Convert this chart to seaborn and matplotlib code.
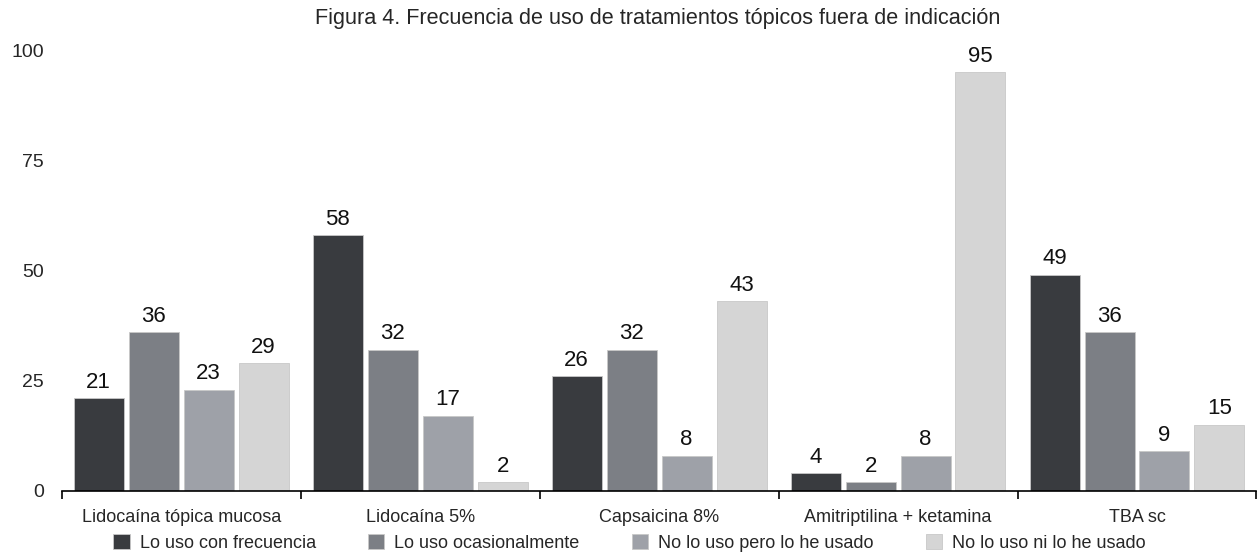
import matplotlib
matplotlib.use('Agg')
import matplotlib.pyplot as plt
import seaborn as sns
import pandas as pd
import numpy as np

# datos
categorias = ['Lidocaína tópica mucosa', 'Lidocaína 5%', 'Capsaicina 8%',
              'Amitriptilina + ketamina', 'TBA sc']
respuestas = ['Lo uso con frecuencia', 'Lo uso ocasionalmente',
              'No lo uso pero lo he usado', 'No lo uso ni lo he usado']
con_frecuencia = [21, 58, 26, 4, 49]
ocasionalmente = [36, 32, 32, 2, 36]
pero_lo_he_usado = [23, 17, 8, 8, 9]
ni_lo_he_usado = [29, 2, 43, 95, 15]
colores = ['#383b40', '#7a7f87', '#9ca0aa', '#d5d5d5']

series = [con_frecuencia, ocasionalmente, pero_lo_he_usado, ni_lo_he_usado]
df = pd.DataFrame({
    'categoria': np.repeat([categorias], 4, axis=0).ravel(),
    'respuesta': np.repeat(respuestas, len(categorias)),
    'valor': np.concatenate(series),
})

sns.set_style('white')
plt.rcParams['font.family'] = ['Liberation Sans', 'DejaVu Sans']

fig = plt.figure(figsize=(12.59, 5.57), dpi=100)
ax = fig.add_axes([0.049, 0.1185, 0.949, 0.7915])

sns.barplot(data=df, x='categoria', y='valor', hue='respuesta',
            order=categorias, hue_order=respuestas, palette=colores,
            width=0.92, gap=0.09, edgecolor='#c8c8c8', linewidth=0.6,
            ax=ax, legend=True)

for cont in ax.containers:
    ax.bar_label(cont, padding=4, fontsize=16, color='#111111')

ax.set_ylim(0, 100)
ax.set_xlim(-0.5, len(categorias) - 0.5)
ax.set_yticks([0, 25, 50, 75, 100])
ax.tick_params(axis='y', length=0, pad=13, labelsize=14)
ax.tick_params(axis='x', which='major', length=0, pad=13, labelsize=13)
ax.set_xticks(np.arange(-0.5, len(categorias)), minor=True)
ax.tick_params(axis='x', which='minor', bottom=True, length=6, width=1.2,
               color='black', direction='out')
ax.set_xlabel('')
ax.set_ylabel('')
sns.despine(ax=ax, left=True)
ax.spines['bottom'].set_color('black')
ax.spines['bottom'].set_linewidth(1.2)

handles, labels = ax.get_legend_handles_labels()
ax.get_legend().remove()
fig.legend(handles, labels, loc='lower center', ncol=4, frameon=False,
           fontsize=13, bbox_to_anchor=(0.5, -0.02), handlelength=0.9,
           handleheight=0.9, handletextpad=0.55, columnspacing=2.9)

fig.suptitle('Figura 4. Frecuencia de uso de tratamientos tópicos fuera de indicación',
             fontsize=15.6, x=0.522, y=0.985)

fig.savefig('out.png', dpi=100)
